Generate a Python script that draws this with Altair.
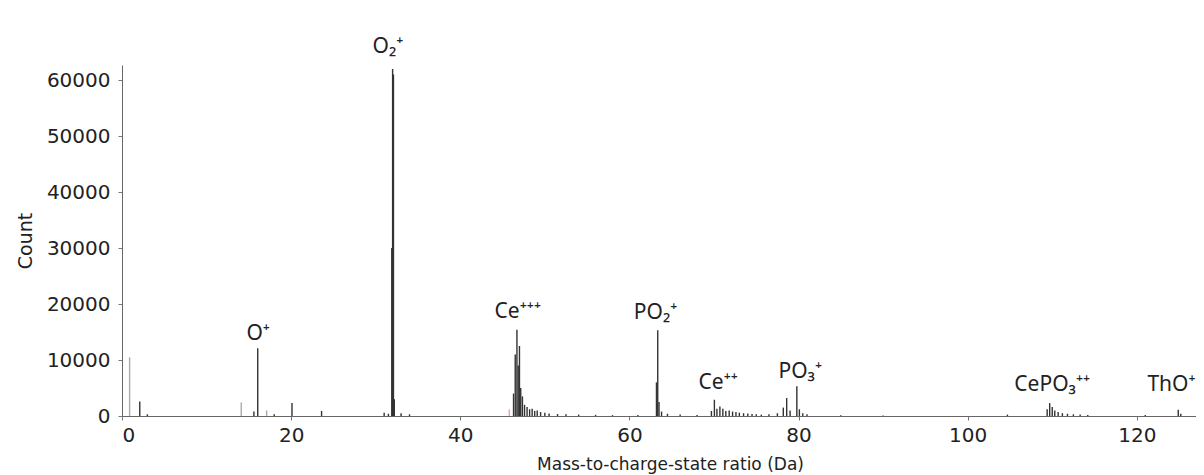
import altair as alt
import pandas as pd

# Spectrum (mass-to-charge ratio in Da, counts)
mz = [0.9, 2.1, 3.0, 14.1, 15.6, 16.05, 17.1, 18.0, 20.1, 23.6,
      31.0, 31.5, 31.9, 32.0, 32.1, 32.2, 33.0, 34.0,
      45.8, 46.3, 46.5, 46.7, 46.85, 47.0, 47.15, 47.35, 47.6, 47.9, 48.2, 48.5, 48.8,
      49.1, 49.5, 50.0, 50.5, 51.5, 52.5, 54.0, 56.0, 58.0, 61.0,
      63.2, 63.35, 63.5, 63.8, 64.5, 66.0, 68.0,
      69.7, 70.05, 70.35, 70.7, 71.05, 71.4, 71.8, 72.2, 72.6, 73.0, 73.5, 74.0, 74.5, 75.0, 75.6,
      76.5, 77.5, 78.2, 78.6, 79.0, 79.8, 80.1, 80.5, 81.0, 85.0, 90.0,
      104.7, 109.4, 109.7, 110.0, 110.3, 110.7, 111.2, 111.8, 112.5, 113.3, 114.2,
      121.0, 124.9, 125.2]
counts = [10500, 2600, 300, 2400, 800, 12100, 1000, 300, 2300, 900,
          600, 400, 30000, 62000, 61000, 3000, 500, 300,
          1200, 4000, 11000, 15400, 9000, 12500, 5000, 3500, 2000, 1600, 1200, 1300, 900,
          1000, 700, 600, 450, 350, 300, 250, 200, 150, 200,
          6000, 15300, 2500, 800, 400, 250, 200,
          900, 2900, 1300, 1700, 1300, 900, 1000, 800, 700, 600, 500, 450, 350, 300, 250,
          300, 500, 1500, 3200, 1000, 5300, 1200, 500, 300, 150, 100,
          250, 1200, 2300, 1600, 1000, 700, 500, 400, 300, 250, 200,
          200, 1100, 400]
shade = ["light", "dark", "dark", "light", "dark", "dark", "light", "dark", "dark", "dark",
         "dark", "dark", "dark", "dark", "dark", "dark", "dark", "dark",
         "pink"] + ["dark"] * (len(mz) - 19)

# Ion annotations
ion_labels = ["O\u2082\u207a", "O\u207a", "Ce\u207a\u207a\u207a", "PO\u2082\u207a", "Ce\u207a\u207a",
              "PO\u2083\u207a", "CePO\u2083\u207a\u207a", "ThO\u207a"]
ion_x = [31.45, 16.1, 46.8, 63.1, 70.5, 80.2, 110.0, 124.1]
ion_y = [65900, 14600, 18600, 18400, 5900, 7900, 5500, 5500]

x_ticks = [0, 20, 40, 60, 80, 100, 120]
y_ticks = list(range(0, 60001, 5000))

spec = pd.DataFrame({"mz": mz, "count": counts, "shade": shade})
ions = pd.DataFrame({"label": ion_labels, "x": ion_x, "y": ion_y})

FONT = "DejaVu Sans"
LABEL_FONT = "Noto Sans"

xscale = alt.Scale(domain=[0, 127], nice=False, zero=False)
yscale = alt.Scale(domain=[0, 62700], nice=False)

bars = alt.Chart(spec).mark_rule(strokeWidth=1.4).encode(
    x=alt.X("mz:Q", scale=xscale,
            axis=alt.Axis(values=x_ticks, title="Mass-to-charge-state ratio (Da)", grid=False,
                          labelFontSize=20, titleFontSize=17, labelFont=FONT, titleFont=FONT,
                          titleFontWeight="normal", domainColor="#666", tickColor="#777",
                          tickSize=4, labelPadding=5, titlePadding=11, labelColor="#222",
                          titleColor="#222", titleX=548, titleAnchor="middle")),
    y=alt.Y("count:Q", scale=yscale,
            axis=alt.Axis(values=y_ticks, format="d", title="Count", grid=False,
                          labelExpr="datum.value % 10000 == 0 ? datum.label : ''",
                          labelFontSize=20, titleFontSize=19, labelFont=FONT, titleFont=FONT,
                          titleFontWeight="normal", domainColor="#666", tickColor="#777",
                          tickSize=4, labelPadding=8, titlePadding=11, labelColor="#222",
                          titleColor="#222")),
    y2=alt.datum(0),
    color=alt.Color("shade:N", legend=None,
                    scale=alt.Scale(domain=["dark", "light", "pink"],
                                    range=["#333333", "#aaaaaa", "#e8a0b4"])),
)

texts = alt.Chart(ions).mark_text(font=LABEL_FONT, fontSize=21, color="#222",
                                  align="center", baseline="middle").encode(
    x=alt.X("x:Q", scale=xscale),
    y=alt.Y("y:Q", scale=yscale),
    text="label:N",
)

chart = alt.layer(bars, texts).properties(
    width=1074, height=351,
    padding={"left": 114, "top": 57, "right": 0, "bottom": 59},
    autosize=alt.AutoSizeParams(type="none"),
).configure_view(stroke=None)

chart.save("out.html", embed_options={"renderer": "svg", "actions": False})
